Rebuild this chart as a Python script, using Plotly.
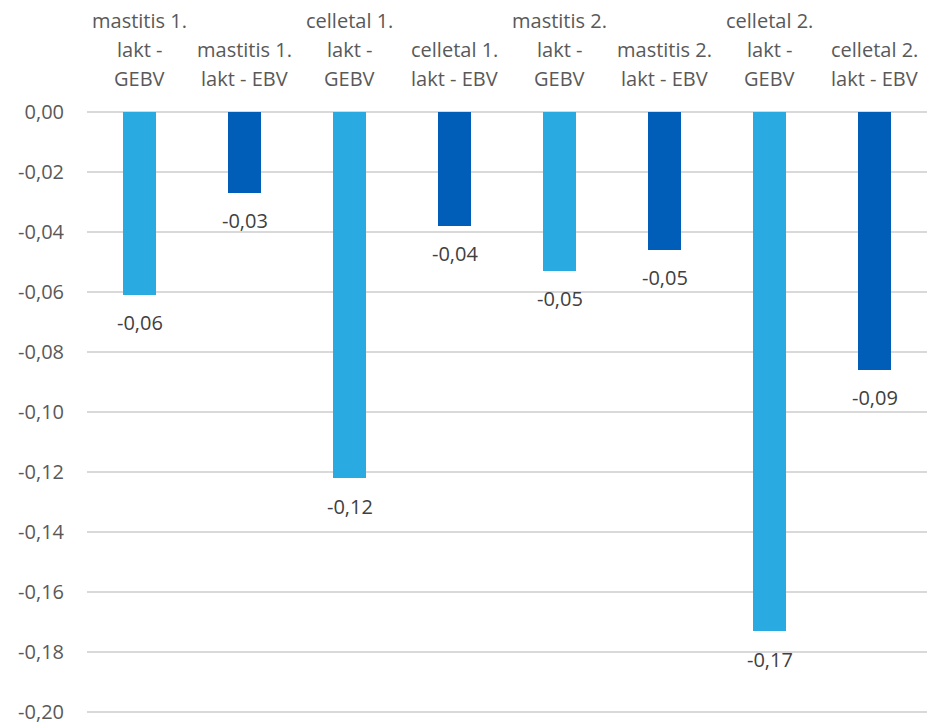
import plotly.graph_objects as go

categories = [
    "mastitis 1.<br>lakt -<br>GEBV",
    "mastitis 1.<br>lakt - EBV",
    "celletal 1.<br>lakt -<br>GEBV",
    "celletal 1.<br>lakt - EBV",
    "mastitis 2.<br>lakt -<br>GEBV",
    "mastitis 2.<br>lakt - EBV",
    "celletal 2.<br>lakt -<br>GEBV",
    "celletal 2.<br>lakt - EBV",
]
values = [-0.061, -0.027, -0.122, -0.038, -0.053, -0.046, -0.173, -0.086]
bar_colors = ["#29ABE2", "#005EB8"] * 4
tick_vals = [0, -0.02, -0.04, -0.06, -0.08, -0.10, -0.12, -0.14, -0.16, -0.18, -0.20]
tick_text = [f"{v:.2f}".replace(".", ",") for v in tick_vals]
tick_text[0] = "0,00"

FONT = "Open Sans"
FSIZE = 20
LINE_H = 29

x_idx = list(range(len(categories)))

fig = go.Figure(
    go.Bar(
        x=x_idx,
        y=values,
        marker=dict(color=bar_colors, line=dict(width=0)),
        width=0.31,
        hoverinfo="skip",
    )
)

annotations = []
# category labels above the plot, one annotation per line, bottom-aligned
for i, cat in enumerate(categories):
    lines = cat.split("<br>")
    n = len(lines)
    for j, line in enumerate(lines):
        annotations.append(dict(
            x=i, y=0, xref="x", yref="y", text=line, showarrow=False,
            yanchor="middle", xanchor="center",
            yshift=33 + (n - 1 - j) * LINE_H,
            font=dict(family=FONT, size=FSIZE, color="#595959"),
        ))
# value labels under each bar
for i, v in enumerate(values):
    annotations.append(dict(
        x=i, y=v, xref="x", yref="y", text=f"{v:.2f}".replace(".", ","),
        showarrow=False, yanchor="middle", xanchor="center", yshift=-28,
        font=dict(family=FONT, size=FSIZE, color="#404040"),
    ))

fig.update_layout(
    width=927, height=725,
    margin=dict(l=87, r=0, t=110, b=5),
    paper_bgcolor="white", plot_bgcolor="white",
    showlegend=False,
    bargap=0,
    annotations=annotations,
    font=dict(family=FONT, size=FSIZE, color="#595959"),
)
fig.update_xaxes(range=[-0.5, 7.5], showticklabels=False, showgrid=False,
                 zeroline=False, showline=False, ticks="")
fig.update_yaxes(range=[-0.2015, 0.0005], tickvals=tick_vals, ticktext=tick_text,
                 showgrid=True, gridcolor="#D9D9D9", gridwidth=1.5,
                 zeroline=False, showline=False, ticks="", ticklabelstandoff=22,
                 ticklabeloverflow="allow",
                 tickfont=dict(family=FONT, size=FSIZE, color="#595959"))

fig.write_html("out.html")
